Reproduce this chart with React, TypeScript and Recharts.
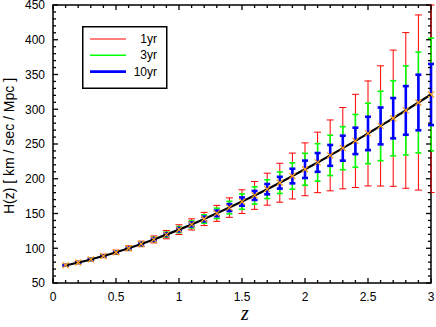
import React from 'react';
import { ComposedChart, Scatter, ErrorBar, XAxis, YAxis, ReferenceArea, Legend } from 'recharts';

// ---- data ----
const zValues = [0.1, 0.2, 0.3, 0.4, 0.5, 0.6, 0.7, 0.8, 0.9, 1.0, 1.1, 1.2, 1.3, 1.4, 1.5, 1.6, 1.7, 1.8, 1.9, 2.0, 2.1, 2.2, 2.3, 2.4, 2.5, 2.6, 2.7, 2.8, 2.9, 3.0];
const hValues = [75.5, 79.5, 83.9, 88.9, 94.2, 100.0, 106.2, 112.7, 119.6, 126.8, 134.3, 142.1, 150.2, 158.5, 167.1, 176.0, 185.0, 194.3, 203.9, 213.6, 223.5, 233.6, 244.0, 254.5, 265.2, 276.0, 287.1, 298.3, 309.7, 321.2];
const err1yr: (number | number[])[] = [1.5, 1.8, 2, 2.5, 3, 3.5, 4, 5, 6, 7, 8, 9.5, 11.5, 14, 17, 20, 23, 28, 33, 38, 43.5, 51, 58.5, 67, 75.5, 86.5, 98, 112, 126, [141, 128.8]];
const err3yr = [1, 1.2, 1.4, 1.6, 1.9, 2.2, 2.6, 3, 3.6, 4.3, 5, 6, 7.5, 9, 11, 12.5, 13.5, 15.5, 19, 23, 27, 29, 31, 38, 43.5, 50, 54, 64, 72.5, 81];
const err10yr = [0.6, 0.7, 0.8, 0.9, 1, 1.2, 1.4, 1.7, 2, 2.4, 2.8, 3.3, 4, 5, 6, 6.5, 7.5, 8.5, 10.5, 12.5, 13.5, 15, 18, 19, 24, 26.5, 29, 35, 40, 44];

const seriesNames = ['1yr', '3yr', '10yr'];
const seriesColors = ['#ff0000', '#00ff00', '#0000ff'];
const seriesWidths = [1, 1.6, 2.6];

const xTicks = [0, 0.1, 0.2, 0.3, 0.4, 0.5, 0.6, 0.7, 0.8, 0.9, 1, 1.1, 1.2, 1.3, 1.4, 1.5, 1.6, 1.7, 1.8, 1.9, 2, 2.1, 2.2, 2.3, 2.4, 2.5, 2.6, 2.7, 2.8, 2.9, 3];
const xMajorTicks = [0, 0.5, 1, 1.5, 2, 2.5, 3];
const xTickLabels = ['0', '0.5', '1', '1.5', '2', '2.5', '3'];
const yTicks = [50, 60, 70, 80, 90, 100, 110, 120, 130, 140, 150, 160, 170, 180, 190, 200, 210, 220, 230, 240, 250, 260, 270, 280, 290, 300, 310, 320, 330, 340, 350, 360, 370, 380, 390, 400, 410, 420, 430, 440, 450];
const yMajorTicks = [50, 100, 150, 200, 250, 300, 350, 400, 450];
const yTickLabels = ['50', '100', '150', '200', '250', '300', '350', '400', '450'];

const rows = zValues.map((z, i) => ({ z, h: hValues[i], e1: err1yr[i], e3: err3yr[i], e10: err10yr[i] }));

// ---- layout ----
const W = 436;
const H = 327;
const PL = 53;
const PR = 431;
const PT = 5;
const PB = 283;
const FONT = '"Liberation Sans", Arial, Helvetica, sans-serif';

const near = (a: number, b: number) => Math.abs(a - b) < 1e-6;

const XTick = (props: any) => {
  const { x, payload } = props;
  const v = payload.value as number;
  const idx = xMajorTicks.findIndex((m) => near(m, v));
  const major = idx >= 0;
  const len = major ? 5 : 3;
  return (
    <g>
      <line x1={x} x2={x} y1={PB} y2={PB - len} stroke="#000" strokeWidth={1.3} />
      <line x1={x} x2={x} y1={PT} y2={PT + len} stroke="#000" strokeWidth={1.3} />
      {major && (
        <text x={x} y={301} textAnchor="middle" fontSize={12} fontFamily={FONT} fill="#000">
          {xTickLabels[idx]}
        </text>
      )}
    </g>
  );
};

const YTick = (props: any) => {
  const { y, payload } = props;
  const v = payload.value as number;
  const idx = yMajorTicks.findIndex((m) => near(m, v));
  const major = idx >= 0;
  const len = major ? 5 : 3;
  return (
    <g>
      <line x1={PL} x2={PL + len} y1={y} y2={y} stroke="#000" strokeWidth={1.3} />
      <line x1={PR} x2={PR - len} y1={y} y2={y} stroke="#000" strokeWidth={1.3} />
      {major && (
        <text x={45} y={y + 4.3} textAnchor="end" fontSize={12} fontFamily={FONT} fill="#000">
          {yTickLabels[idx]}
        </text>
      )}
    </g>
  );
};

const Hidden = () => <g />;

const XMark = (props: any) => {
  const { cx, cy } = props;
  const s = 3;
  return (
    <g stroke="#ffa020" strokeWidth={1.2}>
      <line x1={cx - s} y1={cy - s} x2={cx + s} y2={cy + s} />
      <line x1={cx - s} y1={cy + s} x2={cx + s} y2={cy - s} />
    </g>
  );
};

const LegendBox = () => (
  <svg width={86} height={64} style={{ display: 'block' }}>
    <rect x={0.75} y={0.75} width={84} height={61.5} fill="#fff" stroke="#000" strokeWidth={1.5} />
    {seriesNames.map((name, i) => (
      <g key={name}>
        <line x1={8} x2={44} y1={13 + i * 16.3} y2={13 + i * 16.3} stroke={seriesColors[i]} strokeWidth={seriesWidths[i]} />
        <text x={75} y={17 + i * 16.3} textAnchor="end" fontSize={12} fontFamily={FONT} fill="#000">
          {name}
        </text>
      </g>
    ))}
  </svg>
);

const YLabel = () => (
  <text
    transform="translate(9,146) rotate(-90)"
    textAnchor="middle"
    dominantBaseline="central"
    fontSize={14}
    fontFamily={FONT}
    fill="#000"
  >
    H(z) [ km / sec / Mpc ]
  </text>
);

const XLabel = () => (
  <text x={245} y={320} textAnchor="middle" fontSize={20} fontStyle="italic" fontFamily='"Liberation Serif", "Times New Roman", serif' fill="#000">
    z
  </text>
);

export default function App() {
  return (
    <div style={{ position: 'absolute', left: 0, top: 0, width: W, height: H, background: '#fff' }}>
      <ComposedChart width={W} height={H} data={rows} margin={{ top: PT, right: W - PR, bottom: 0, left: 0 }}>
        <XAxis
          dataKey="z"
          type="number"
          domain={[0, 3]}
          ticks={xTicks}
          interval={0}
          height={H - PB}
          axisLine={false}
          tickLine={false}
          tick={XTick}
          label={{ content: XLabel }}
        />
        <YAxis
          type="number"
          domain={[50, 450]}
          ticks={yTicks}
          interval={0}
          width={PL}
          axisLine={false}
          tickLine={false}
          tick={YTick}
          label={{ content: YLabel }}
        />
        <ReferenceArea x1={0} x2={3} y1={50} y2={450} fill="none" fillOpacity={0} stroke="#000" strokeWidth={1.5} />
        <Scatter dataKey="h" shape={Hidden} isAnimationActive={false} legendType="none">
          <ErrorBar dataKey="e1" direction="y" width={3.5} stroke={seriesColors[0]} strokeWidth={seriesWidths[0]} isAnimationActive={false} />
        </Scatter>
        <Scatter dataKey="h" shape={Hidden} isAnimationActive={false} legendType="none">
          <ErrorBar dataKey="e3" direction="y" width={3} stroke={seriesColors[1]} strokeWidth={seriesWidths[1]} isAnimationActive={false} />
        </Scatter>
        <Scatter dataKey="h" shape={Hidden} isAnimationActive={false} legendType="none">
          <ErrorBar dataKey="e10" direction="y" width={3} stroke={seriesColors[2]} strokeWidth={seriesWidths[2]} isAnimationActive={false} />
        </Scatter>
        <Scatter
          dataKey="h"
          shape={XMark}
          line={{ stroke: '#000', strokeWidth: 2.2 }}
          lineJointType="monotoneX"
          isAnimationActive={false}
          legendType="none"
        />
        <Legend
          content={LegendBox}
          layout="horizontal"
          verticalAlign="middle"
          align="center"
          wrapperStyle={{ position: 'absolute', left: 82, top: 26, width: 86, height: 64 }}
        />
      </ComposedChart>
    </div>
  );
}
